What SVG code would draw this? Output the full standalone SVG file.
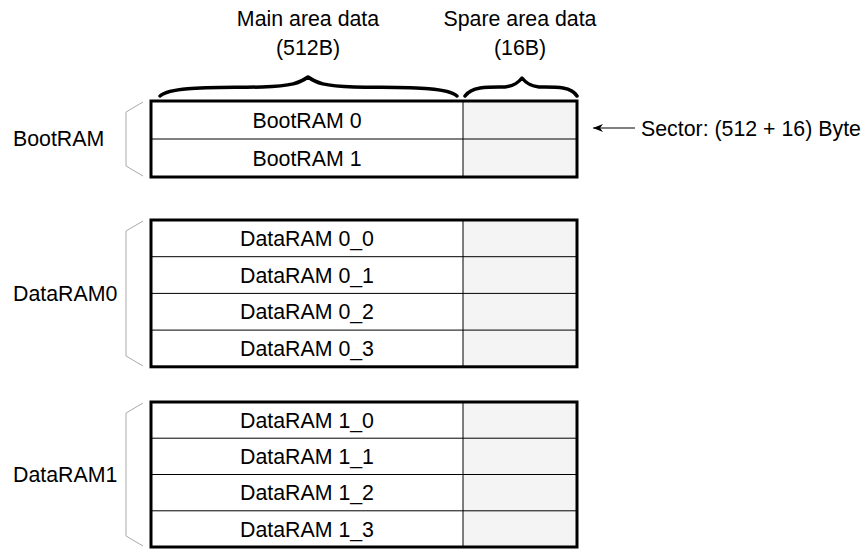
<svg xmlns="http://www.w3.org/2000/svg" width="867" height="550" viewBox="0 0 867 550">
<style>
text{font-family:"Liberation Sans",Arial,sans-serif;font-size:21.33px;fill:#000}
.c{text-anchor:middle}
.outer{fill:none;stroke:#000;stroke-width:3}
.row{stroke:#000;stroke-width:1;fill:none}
.spare{fill:#f4f4f4;stroke:none}
.brk{fill:none;stroke:#aaa;stroke-width:1}
.brace{fill:none;stroke:#000;stroke-width:3.5;stroke-linecap:round;stroke-linejoin:round}
</style>
<defs>
<marker id="ah" markerWidth="10" markerHeight="8" refX="10" refY="4" orient="auto" markerUnits="userSpaceOnUse">
<path d="M0,0 L10,4 L0,8 L3,4 Z" fill="#000"/>
</marker>
</defs>
<rect width="867" height="550" fill="#fff"/>

<g id="header">
<text class="c" x="308" y="26">Main area data</text>
<text class="c" x="308" y="55">(512B)</text>
<text class="c" x="520" y="26">Spare area data</text>
<text class="c" x="520" y="55">(16B)</text>
<path class="brace" d="M160,96 C172,86 215,88 262,87 C292,86 300,83 308,77 C316,83 324,86 354,87 C401,88 445,86 457,96"/>
<path class="brace" d="M465,96 C472,86 490,87 505,87 C514,86 518,83 522,78 C526,83 530,86 539,87 C554,87 571,86 577,96"/>
</g>

<g id="bootram">
<rect class="spare" x="463" y="101" width="114" height="76"/>
<line class="row" x1="151" y1="139" x2="577" y2="139"/>
<line class="row" x1="463" y1="101" x2="463" y2="177"/>
<rect class="outer" x="151" y="101" width="426" height="76"/>
<text class="c" x="307" y="127.6">BootRAM 0</text>
<text class="c" x="307" y="165.6">BootRAM 1</text>
<polyline class="brk" points="143,102 126,112 126,166 143,176"/>
<text x="13" y="146">BootRAM</text>
</g>

<g id="dataram0">
<rect class="spare" x="463" y="220" width="114" height="146.8"/>
<line class="row" x1="151" y1="256.7" x2="577" y2="256.7"/>
<line class="row" x1="151" y1="293.4" x2="577" y2="293.4"/>
<line class="row" x1="151" y1="330.1" x2="577" y2="330.1"/>
<line class="row" x1="463" y1="220" x2="463" y2="366.8"/>
<rect class="outer" x="151" y="220" width="426" height="146.8"/>
<text class="c" x="307" y="246">DataRAM 0_0</text>
<text class="c" x="307" y="282.7">DataRAM 0_1</text>
<text class="c" x="307" y="319.4">DataRAM 0_2</text>
<text class="c" x="307" y="356.1">DataRAM 0_3</text>
<polyline class="brk" points="143,221 126,231 126,356 143,366"/>
<text x="13" y="301">DataRAM0</text>
</g>

<g id="dataram1">
<rect class="spare" x="463" y="402" width="114" height="145"/>
<line class="row" x1="151" y1="438.2" x2="577" y2="438.2"/>
<line class="row" x1="151" y1="474.5" x2="577" y2="474.5"/>
<line class="row" x1="151" y1="510.8" x2="577" y2="510.8"/>
<line class="row" x1="463" y1="402" x2="463" y2="547"/>
<rect class="outer" x="151" y="402" width="426" height="145"/>
<text class="c" x="307" y="427.7">DataRAM 1_0</text>
<text class="c" x="307" y="463.9">DataRAM 1_1</text>
<text class="c" x="307" y="500.2">DataRAM 1_2</text>
<text class="c" x="307" y="536.5">DataRAM 1_3</text>
<polyline class="brk" points="143,403 126,413 126,536 143,546"/>
<text x="13" y="482">DataRAM1</text>
</g>

<g id="connectors">
<line x1="635" y1="128" x2="593" y2="128" stroke="#000" stroke-width="1" marker-end="url(#ah)"/>
</g>

<g id="sector-label">
<text x="641" y="135.6">Sector: (512 + 16) Byte</text>
</g>
</svg>
